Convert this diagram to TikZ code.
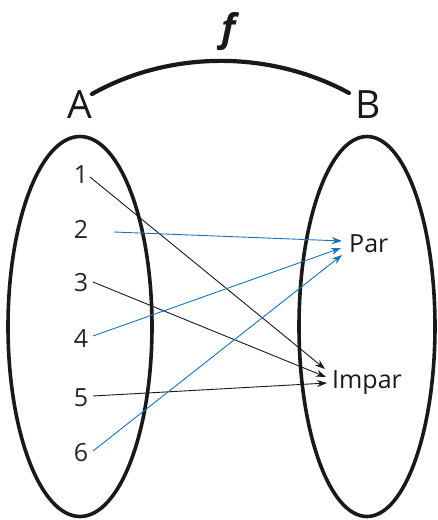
\documentclass[tikz,border=0pt]{standalone}
\usepackage{fontspec}
\setmainfont{Open Sans}
\usetikzlibrary{arrows.meta}
\definecolor{myblue}{RGB}{20,116,190}
\begin{document}
\begin{tikzpicture}[x=1pt,y=-1pt,
  setoval/.style={line width=3.6pt, draw=black!90},
  num/.style={font=\fontsize{25}{25}\selectfont, anchor=base, inner sep=0pt, text=black!85},
  big/.style={font=\fontsize{39}{39}\selectfont, anchor=base, inner sep=0pt, text=black!90},
  lab/.style={font=\fontsize{25}{25}\selectfont, anchor=base west, inner sep=0pt, text=black!90},
  blk/.style={draw=black!90, line width=0.9pt, -{Stealth[length=10pt,width=7pt]}},
  blu/.style={draw=myblue, line width=0.9pt, -{Stealth[length=10pt,width=7pt]}}]
\useasboundingbox (0,0) rectangle (437,520);
% sets
\draw[setoval] (80,326.5) ellipse [x radius=72, y radius=190];
\draw[setoval] (367,326.5) ellipse [x radius=68, y radius=190];
% labels
\node[big] (A) at (80,118) {A};
\node[big] (B) at (368,118) {B};
\node[inner sep=0pt, anchor=base, font=\fontsize{38}{38}\selectfont\bfseries\itshape, text=black!90] (f) at (229,41) {f};
\coordinate (arcL) at (92,94);
\coordinate (arcR) at (349,93);
\draw[line width=4.2pt, draw=black!90, line cap=round] (arcL) .. controls (170,50) and (270,50) .. (arcR);
% elements
\node[num] (n1) at (81,183) {1};
\node[num] (n2) at (81,238) {2};
\node[num] (n3) at (81,291) {3};
\node[num] (n4) at (81,347) {4};
\node[num] (n5) at (81,406) {5};
\node[num] (n6) at (81,461) {6};
\node[lab] (par) at (349,252) {Par};
\node[lab] (impar) at (332,388) {Impar};
% start points
\coordinate (s1) at (90,177);
\coordinate (s2) at (114,232);
\coordinate (s3) at (93,282);
\coordinate (s4) at (93,336);
\coordinate (s5) at (93,396);
\coordinate (s6) at (93,451);
% end points
\coordinate (p2) at (342,241);
\coordinate (p4) at (341,248);
\coordinate (p6) at (342,255);
\coordinate (i1) at (325,369);
\coordinate (i3) at (326,377);
\coordinate (i5) at (327,383);
% arrows
\draw[blk] (s1) -- (i1);
\draw[blu] (s2) -- (p2);
\draw[blk] (s3) -- (i3);
\draw[blu] (s4) -- (p4);
\draw[blk] (s5) -- (i5);
\draw[blu] (s6) -- (p6);
\end{tikzpicture}
\end{document}
